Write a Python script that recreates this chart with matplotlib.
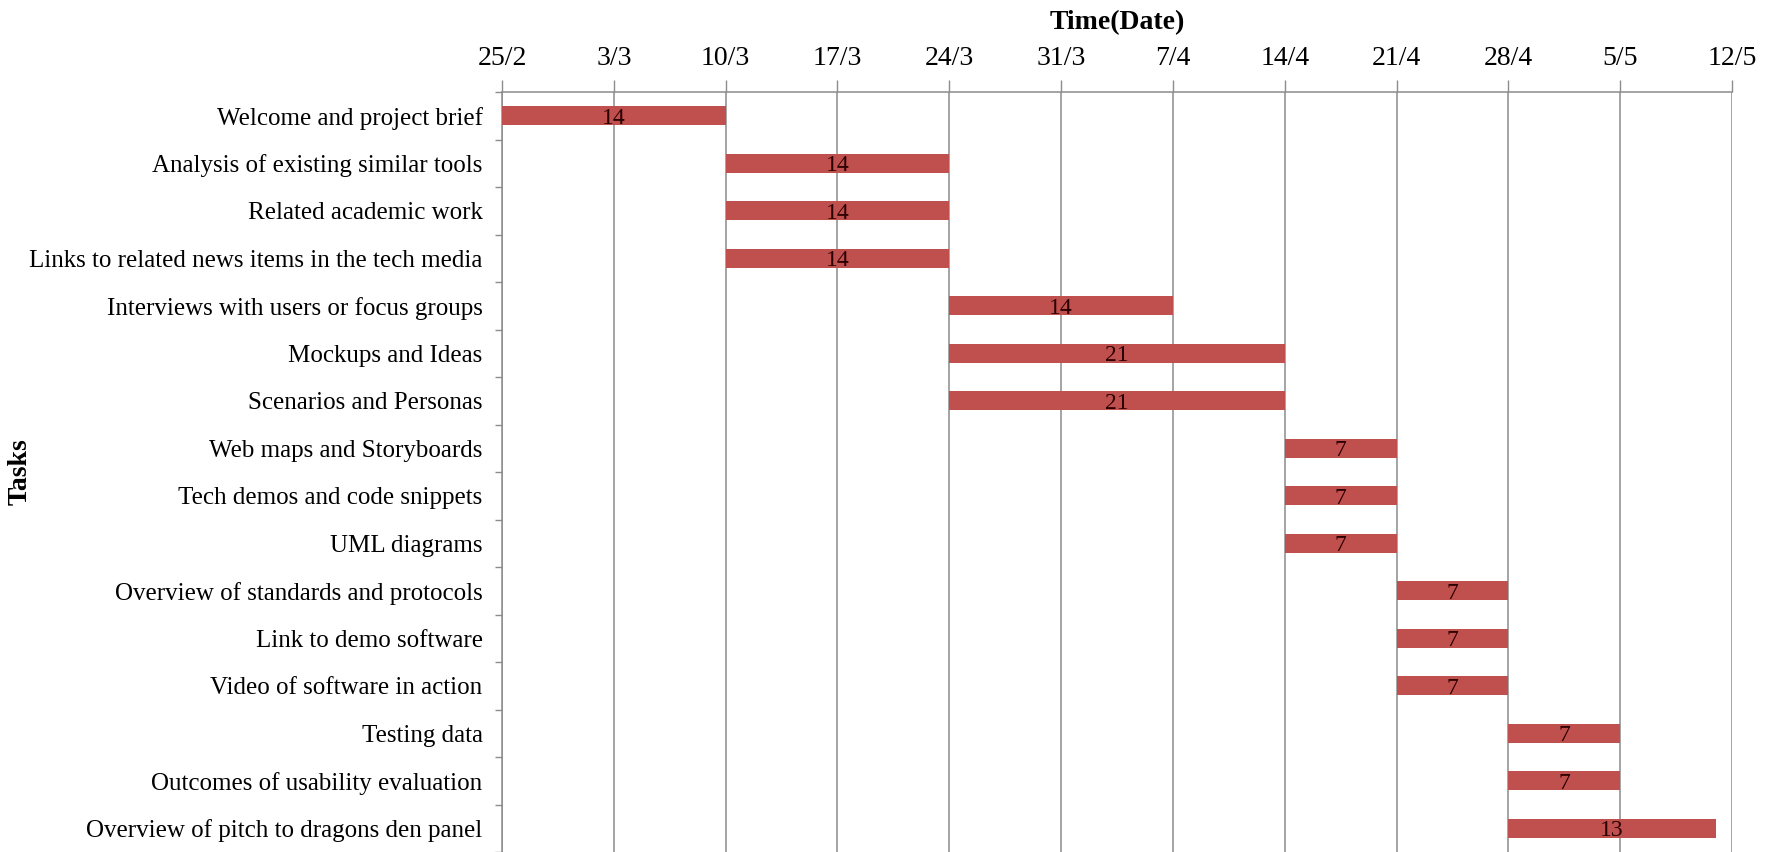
import matplotlib
matplotlib.use("Agg")
import matplotlib.pyplot as plt
import matplotlib.dates as mdates
from matplotlib.ticker import FuncFormatter, FixedLocator
import datetime as dt

tasks = [
    "Welcome and project brief",
    "Analysis of existing similar tools",
    "Related academic work",
    "Links to related news items in the tech media",
    "Interviews with users or focus groups",
    "Mockups and Ideas",
    "Scenarios and Personas",
    "Web maps and Storyboards",
    "Tech demos and code snippets",
    "UML diagrams",
    "Overview of standards and protocols",
    "Link to demo software",
    "Video of software in action",
    "Testing data",
    "Outcomes of usability evaluation",
    "Overview of pitch to dragons den panel",
]
start_dates = ["2016-02-25", "2016-03-10", "2016-03-10", "2016-03-10",
               "2016-03-24", "2016-03-24", "2016-03-24",
               "2016-04-14", "2016-04-14", "2016-04-14",
               "2016-04-21", "2016-04-21", "2016-04-21",
               "2016-04-28", "2016-04-28", "2016-04-28"]
durations = [14, 14, 14, 14, 14, 21, 21, 7, 7, 7, 7, 7, 7, 7, 7, 13]
axis_start = "2016-02-25"
axis_end = "2016-05-12"

plt.rcParams['font.family'] = ['Liberation Serif', 'DejaVu Serif']

fig = plt.figure(figsize=(17.75, 8.52), dpi=100)
ax = fig.add_axes([502/1775, 0.0, (1732-502)/1775, 1 - 92/852])

starts = [mdates.date2num(dt.date.fromisoformat(s)) for s in start_dates]
ypos = list(range(len(tasks)))
bar_color = '#C0504D'
ax.barh(ypos, durations, left=starts, height=0.41, color=bar_color, zorder=3)
for y, s, d in zip(ypos, starts, durations):
    ax.text(s + d / 2, y, str(d), ha='center', va='center_baseline', fontsize=17,
            color='#2a0000', zorder=4)

x0 = mdates.date2num(dt.date.fromisoformat(axis_start))
x1 = mdates.date2num(dt.date.fromisoformat(axis_end))
ax.set_xlim(x0, x1)
ax.set_ylim(len(tasks) - 0.5, -0.5)

weekly = []
t = x0
while t <= x1 + 1e-9:
    weekly.append(t)
    t += 7
ax.xaxis.set_major_locator(FixedLocator(weekly))
ax.xaxis.set_major_formatter(FuncFormatter(
    lambda v, p: f"{mdates.num2date(v).day}/{mdates.num2date(v).month}"))
ax.xaxis.tick_top()
ax.xaxis.set_label_position('top')
ax.tick_params(axis='x', which='major', direction='out', length=9, width=1,
               color='#8c8c8c', labelsize=20, pad=6)
ax.grid(axis='x', color='#8c8c8c', linewidth=1.1, zorder=0)

ax.set_yticks(ypos)
ax.set_yticklabels(tasks)
ax.set_yticks([i + 0.5 for i in range(-1, len(tasks))], minor=True)
ax.tick_params(axis='y', which='major', length=0, labelsize=18, pad=14)
ax.tick_params(axis='y', which='minor', length=5, width=1, color='#8c8c8c',
               direction='out')

for side in ['bottom', 'right']:
    ax.spines[side].set_visible(False)
for side in ['left', 'top']:
    ax.spines[side].set_color('#8c8c8c')
    ax.spines[side].set_linewidth(1.1)

ax.set_xlabel("Time(Date)", fontsize=20, fontweight='bold', labelpad=12)
fig.text(20/1775, 1 - 472/852, "Tasks", rotation=90, fontsize=20,
         fontweight='bold', ha='center', va='center')

fig.savefig("out.png", dpi=100)
